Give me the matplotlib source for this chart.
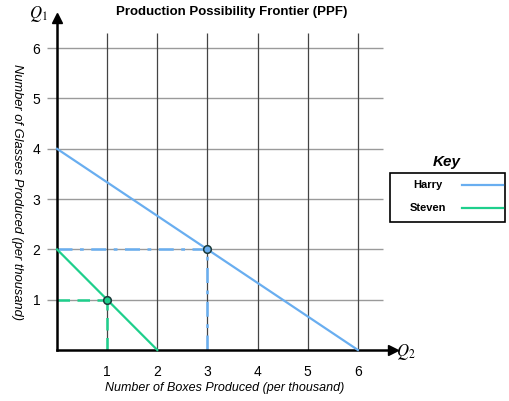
import matplotlib.pyplot as plt
from matplotlib.patches import Rectangle
from matplotlib.lines import Line2D

plt.rcParams['font.family'] = ['Liberation Sans', 'DejaVu Sans']
plt.rcParams['mathtext.fontset'] = 'stix'

# data
names = ['Harry', 'Steven']
colors = ['#69aef0', '#1ecf8c']
max_boxes = [6, 2]      # x intercepts
max_glasses = [4, 2]    # y intercepts
chosen_x = [3, 1]
chosen_y = [2, 1]
guide_styles = [(0, (6, 3, 1.5, 3)), (0, (5, 3))]
xticks = [1, 2, 3, 4, 5, 6]
yticks = [1, 2, 3, 4, 5, 6]

fig = plt.figure(figsize=(5.10, 4.01), dpi=100)
ax = fig.add_axes([57 / 510, 1 - 350 / 401, 336 / 510, 332 / 401])
ax.set_xlim(0, 6.7)
ax.set_ylim(0, 6.6)
ax.patch.set_alpha(0)
for s in ['top', 'right']:
    ax.spines[s].set_visible(False)
for s in ['left', 'bottom']:
    ax.spines[s].set_linewidth(1.8)
ax.set_xticks(xticks)
ax.set_yticks(yticks)
ax.tick_params(length=0, labelsize=10)
ax.tick_params(axis='x', pad=11)
ax.tick_params(axis='y', pad=12)

# grid
ax.hlines(yticks, -0.2, 6.5, color='#9a9a9a', lw=1, clip_on=False, zorder=0)
ax.vlines(xticks, 0, 6.3, color='#444444', lw=0.9, clip_on=False, zorder=0)

# arrows on axes
ax.plot(1, 0, '>', color='k', ms=7, transform=ax.get_yaxis_transform(), clip_on=False)
ax.plot(0, 1, '^', color='k', ms=7, transform=ax.get_xaxis_transform(), clip_on=False)

for name, c, bx, gy, px, py, ls in zip(names, colors, max_boxes, max_glasses,
                                        chosen_x, chosen_y, guide_styles):
    ax.plot([0, bx], [gy, 0], color=c, lw=1.6, zorder=3, clip_on=False)
    ax.plot([0, px], [py, py], color=c, lw=1.8, ls=ls, zorder=2, clip_on=False)
    ax.plot([px, px], [0, py], color=c, lw=1.8, ls=ls, zorder=2, clip_on=False)
    ax.plot(px, py, 'o', mfc=c, mec='#1a3a3a', mew=1.1, ms=5.5, zorder=4, clip_on=False)

fig.text(232 / 510, 1 - 12 / 401, 'Production Possibility Frontier (PPF)',
         ha='center', va='center', fontsize=9.5, fontweight='bold')
fig.text(38 / 510, 1 - 14 / 401, r'$Q_1$', ha='center', va='center', fontsize=12)
fig.text(406 / 510, 1 - 352 / 401, r'$Q_2$', ha='center', va='center', fontsize=12)
fig.text(17 / 510, 1 - 192 / 401, 'Number of Glasses Produced (per thousand)',
         rotation=-90, ha='center', va='center', fontsize=9.3, style='italic')
fig.text(225 / 510, 1 - 388 / 401, 'Number of Boxes Produced (per thousand)',
         ha='center', va='center', fontsize=9, style='italic')

# key
fig.text(447 / 510, 1 - 162 / 401, 'Key', ha='center', va='center',
         fontsize=11, fontweight='bold', style='italic')
fig.patches.append(Rectangle((390 / 510, 1 - 222 / 401), 115 / 510, 49 / 401,
                             transform=fig.transFigure, fill=False, ec='k', lw=1.2))
for i, (name, c) in enumerate(zip(names, colors)):
    yy = 1 - (185 + 23 * i) / 401
    fig.text(428 / 510, yy, name, ha='center', va='center', fontsize=8, fontweight='bold')
    fig.lines.append(Line2D([462 / 510, 503 / 510], [yy, yy], color=c, lw=1.6,
                            transform=fig.transFigure))

fig.savefig('out.png', dpi=100)
